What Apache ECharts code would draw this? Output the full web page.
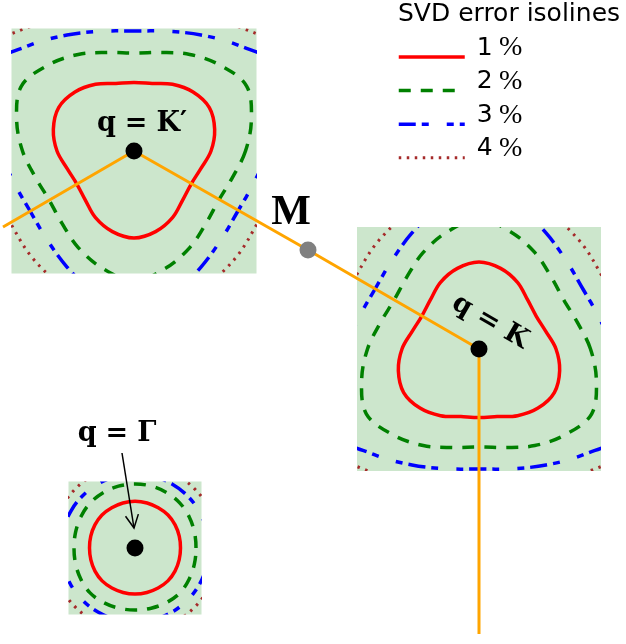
<!DOCTYPE html>
<html><head><meta charset="utf-8">
<script src="https://cdn.jsdelivr.net/npm/echarts@6/dist/echarts.min.js"></script>
<style>html,body{margin:0;padding:0;background:#fff}#c{width:626px;height:644px}</style>
</head><body><div id="c"></div>
<script>
// ---- data ----
// directions (degrees, counter-clockwise, y up) at which the isoline radii were read
const angles = [0,15,30,45,60,75,90,105,120,135,150,165,180,195,210,225,240,255,270,285,300,315,330,345];
// isoline radii around q = K (vertex pointing up); q = K' uses the mirrored shape
const radiiK1 = [77,69,66,69,77,83.5,87,83.5,77,69,66,69,77,83.5,87,83.5,77,70,68.5,70,77,83.5,87,83.5];
const radiiK2 = [111.5,102,98,102,111.5,121.5,130,121.5,111.5,102,98,102,111.5,121.5,130,121.5,111.5,102,98,102,111.5,121.5,130,121.5];
const radiiK3 = [134,124,120,124,134,149,168,149,134,124,120,124,134,149,168,149,134,124,120,124,134,149,168,149];
const radiiK4 = [153,147,143,147,153,168,192,168,153,147,143,147,153,168,192,168,153,147,143,147,153,168,192,168];
// isoline radii around q = Γ
const radiiG1 = [45.5,45.8,46.3,46.7,46.5,46.6,46.7,46.6,46.5,46.7,46.3,45.8,45.5,45.7,46.2,46.5,46.2,46,46,46,46.2,46.5,46.2,45.7];
const radiiG2 = [61,61.5,62.5,63.5,63.8,64,64,64,63.8,63.5,62.5,61.5,61,61.5,62.5,63.5,63,62.3,62,62.3,63,63.5,62.5,61.5];
const radiiG3 = [74,74,74,74,74,74,74,74,74,74,74,74,74,74,74,74,74,74,74,74,74,74,74,74];
const radiiG4 = [84,84,84,84,84,84,84,84,84,84,84,84,84,84,84,84,84,84,84,84,84,84,84,84];
// high-symmetry points and path
const pointNames = ["K'", "M", "K", "Γ"];
const pointX = [134, 308, 479, 135];
const pointY = [151, 250, 349, 548];
const pathX = [3, 134, 308, 479, 479];
const pathY = [227, 151, 250, 349, 634];
const arrowX = [122, 134];
const arrowY = [453, 528];
const levelNames = ['1 %', '2 %', '3 %', '4 %'];

// ---- layout / style ----
const W = 626, H = 644;
const levelStyles = [
  {color: '#ff0000', width: 3.5, dash: null},
  {color: '#008000', width: 3.5, dash: [12, 10]},
  {color: '#0000ff', width: 3.5, dash: [17, 6, 7, 18, 7, 6]},
  {color: '#a52a2a', width: 3, dash: [2.5, 5.5]}
];
const squares = [
  {point: 0, half: 122.5, flip: true, radii: [radiiK1, radiiK2, radiiK3, radiiK4]},
  {point: 2, half: 122, flip: false, radii: [radiiK1, radiiK2, radiiK3, radiiK4]},
  {point: 3, half: 66.5, flip: false, radii: [radiiG1, radiiG2, radiiG3, radiiG4]}
];
const mathRich = {
  t: {fontFamily: 'DejaVu Serif', fontWeight: 'bold', fontSize: 27, color: '#000'},
  e: {fontFamily: 'DejaVu Serif', fontWeight: 'bold', fontSize: 27, color: '#000', padding: [0, 9, 0, 9]},
  m: {fontFamily: 'Liberation Serif', fontWeight: 'bold', fontSize: 42, color: '#000'}
};
const pointLabels = [
  {text: '{t|q}{e|=}{t|K′}', offset: [8, -27], rotate: 0},
  {text: '{m|M}', offset: [-17, -37], rotate: 0},
  {text: '{t|q}{e|=}{t|K}', offset: [-4, -29], rotate: -30},
  {text: '{t|q}{e|=}{t|Γ}', offset: [-18, -114], rotate: 0}
];
const pointColors = ['#000', '#808080', '#000', '#000'];

const grids = [{left: 0, top: 0, width: W, height: H, show: false}];
const xAxes = [{type: 'value', gridIndex: 0, min: 0, max: W, show: false}];
const yAxes = [{type: 'value', gridIndex: 0, min: 0, max: H, inverse: true, show: false}];
const series = [];

// legend carriers
levelNames.forEach((n, i) => {
  const st = levelStyles[i];
  series.push({
    type: 'line', name: n, xAxisIndex: 0, yAxisIndex: 0, data: [], symbol: 'none',
    itemStyle: {color: 'rgba(0,0,0,0)'},
    lineStyle: {color: st.color, width: st.width, type: st.dash || 'solid', cap: 'butt'}
  });
});

squares.forEach((sq, k) => {
  const gi = k + 1;
  const cx = pointX[sq.point], cy = pointY[sq.point];
  grids.push({left: cx - sq.half, top: cy - sq.half, width: 2 * sq.half, height: 2 * sq.half,
    show: true, backgroundColor: '#cce6cc', borderWidth: 0});
  xAxes.push({type: 'value', gridIndex: gi, min: -sq.half, max: sq.half, show: false});
  yAxes.push({type: 'value', gridIndex: gi, min: -sq.half, max: sq.half, show: false});
  sq.radii.forEach((radii, li) => {
    const st = levelStyles[li];
    series.push({
      type: 'custom', name: 'iso' + k + '_' + li, xAxisIndex: gi, yAxisIndex: gi,
      clip: true, silent: true, z: 2, data: [[0, 0]],
      renderItem: function (params, api) {
        const pts = angles.map((a, j) => {
          const t = a * Math.PI / 180;
          return api.coord([radii[j] * Math.cos(t), (sq.flip ? -1 : 1) * radii[j] * Math.sin(t)]);
        });
        return {type: 'polygon', shape: {points: pts, smooth: 0.35},
          style: {fill: 'none', stroke: st.color, lineWidth: st.width, lineDash: st.dash, lineCap: 'butt'}};
      }
    });
  });
});

// path
series.push({
  type: 'line', name: 'path', xAxisIndex: 0, yAxisIndex: 0, z: 3, silent: true,
  symbol: 'none', data: pathX.map((x, i) => [x, pathY[i]]),
  lineStyle: {color: '#ffa500', width: 3}
});
// arrow
series.push({
  type: 'custom', name: 'arrow', xAxisIndex: 0, yAxisIndex: 0, z: 4, silent: true,
  data: [[arrowX[0], arrowY[0], arrowX[1], arrowY[1]]],
  renderItem: function (params, api) {
    const p0 = api.coord([api.value(0), api.value(1)]);
    const p1 = api.coord([api.value(2), api.value(3)]);
    const dx = p1[0] - p0[0], dy = p1[1] - p0[1];
    const L = Math.hypot(dx, dy), ux = dx / L, uy = dy / L;
    const hl = 13, hw = 6.5;
    const b = [p1[0] - ux * hl, p1[1] - uy * hl];
    const w1 = [b[0] - uy * hw, b[1] + ux * hw], w2 = [b[0] + uy * hw, b[1] - ux * hw];
    const sty = {stroke: '#000', lineWidth: 1.5, fill: 'none'};
    return {type: 'group', children: [
      {type: 'line', shape: {x1: p0[0], y1: p0[1], x2: p1[0], y2: p1[1]}, style: sty},
      {type: 'polyline', shape: {points: [w1, p1, w2]}, style: sty}
    ]};
  }
});
// points with labels
series.push({
  type: 'scatter', name: 'points', xAxisIndex: 0, yAxisIndex: 0, z: 5, silent: true,
  symbolSize: 17,
  data: pointX.map((x, i) => ({
    name: pointNames[i], value: [x, pointY[i]],
    itemStyle: {color: pointColors[i], opacity: 1},
    label: {show: true, position: 'inside', formatter: pointLabels[i].text, color: '#000',
      offset: pointLabels[i].offset, rotate: pointLabels[i].rotate, rich: mathRich}
  }))
});

const chart = echarts.init(document.getElementById('c'), null, {renderer: 'canvas'});
chart.setOption({
  animation: false,
  backgroundColor: '#fff',
  title: {text: 'SVD error isolines', left: 398, top: 0, padding: 0,
    textStyle: {fontFamily: 'DejaVu Sans', fontSize: 25, fontWeight: 'normal', color: '#000', lineHeight: 28}},
  legend: {
    data: levelNames, orient: 'vertical', left: 397, top: 34, padding: 0,
    itemWidth: 66, itemHeight: 14, itemGap: 5, selectedMode: false,
    itemStyle: {color: 'rgba(0,0,0,0)', borderWidth: 0, opacity: 0},
    lineStyle: {width: 'inherit', type: 'inherit', color: 'inherit'},
    formatter: function (n) { return '{n|' + n.split(' ')[0] + '} {p|%}'; },
    textStyle: {padding: [0, 0, 18, 7], rich: {
      n: {fontFamily: 'DejaVu Sans', fontSize: 25, lineHeight: 26, color: '#000'},
      p: {fontFamily: 'Liberation Serif', fontSize: 28, lineHeight: 26, color: '#000', padding: [0, 0, 0, 3]}
    }}
  },
  grid: grids, xAxis: xAxes, yAxis: yAxes, series: series
});
</script></body></html>
